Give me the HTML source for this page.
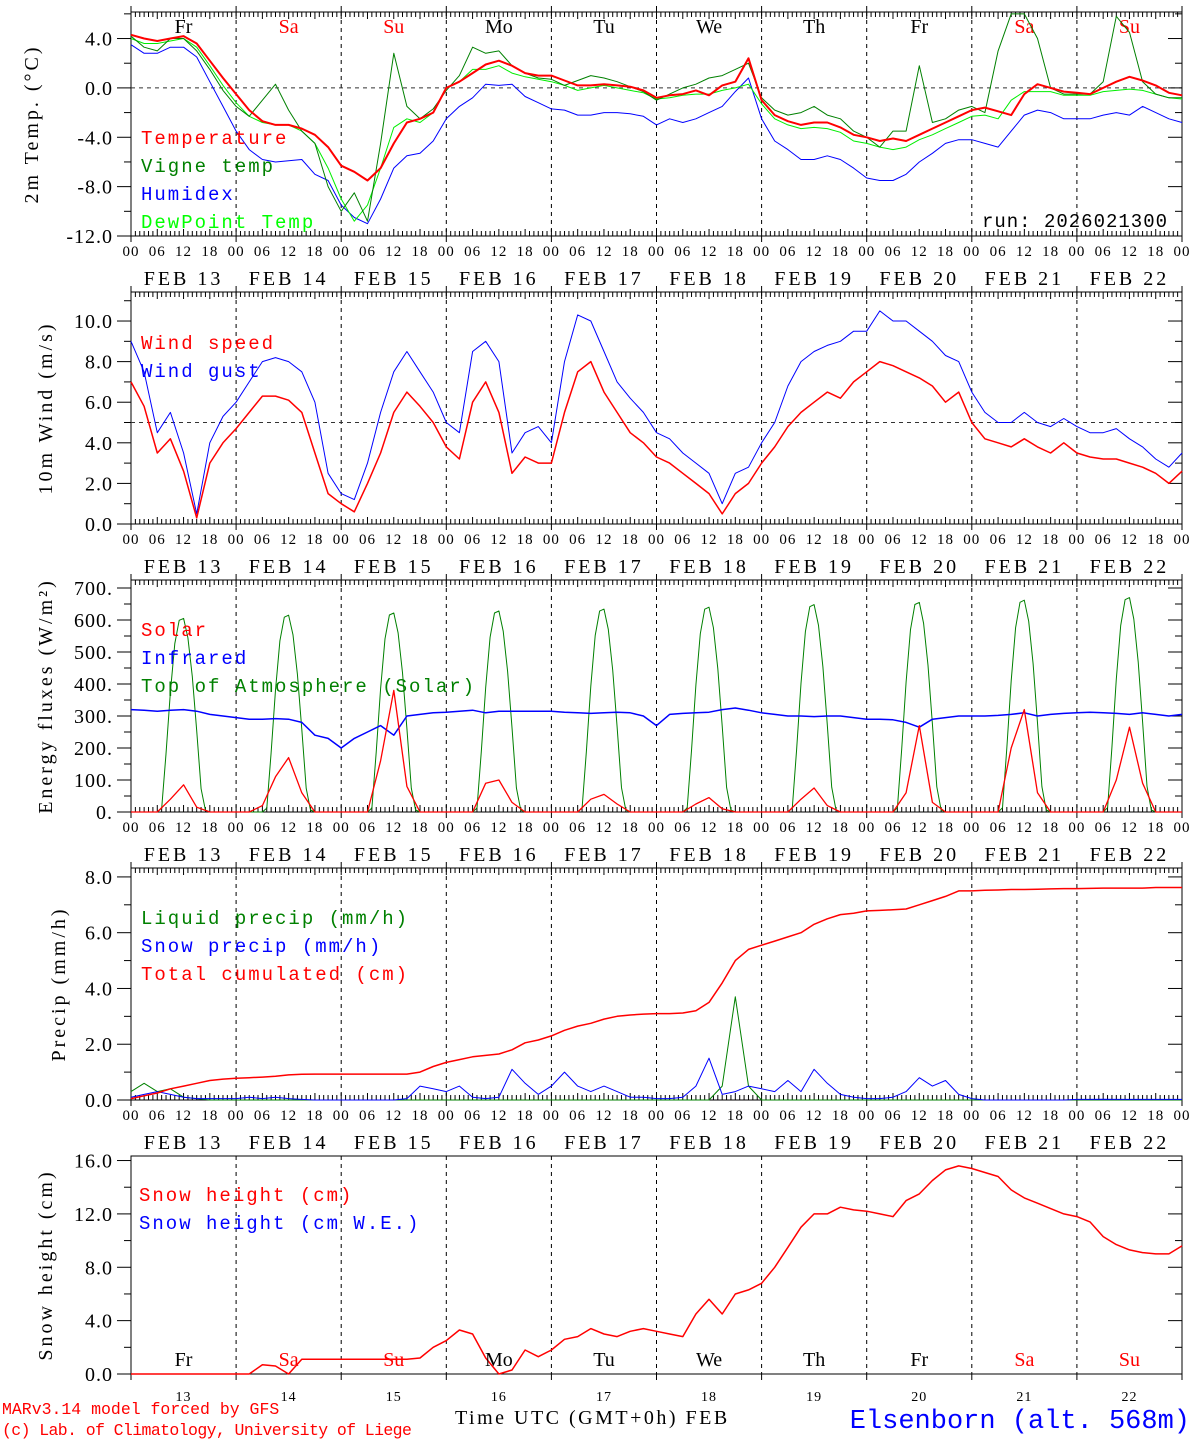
<!DOCTYPE html>
<html><head><meta charset="utf-8"><style>
html,body{margin:0;padding:0;background:#fff;}
svg text{font-family:"Liberation Serif",serif;}
.mono{font-family:"Liberation Mono",monospace !important;}
</style></head><body>
<svg id="chart" width="1194" height="1440" viewBox="0 0 1194 1440" xmlns="http://www.w3.org/2000/svg"></svg>
<script>
// ---- data (3-hourly, Feb 13 00h .. Feb 23 00h) ----
const dayNums=['13','14','15','16','17','18','19','20','21','22'];
const dayNames=['Fr','Sa','Su','Mo','Tu','We','Th','Fr','Sa','Su'];
const weekend=[false,true,true,false,false,false,false,false,true,true];
const temp=[4.3,4.0,3.8,4.0,4.2,3.6,2.2,0.8, -0.5,-1.8,-2.7,-3.0,-3.0,-3.3,-3.8,-4.8, -6.3,-6.8,-7.5,-6.5,-4.5,-2.8,-2.5,-2.0, 0.0,0.5,1.2,1.9,2.2,1.8,1.2,1.0, 1.0,0.6,0.2,0.2,0.3,0.2,0.1,-0.2, -0.8,-0.6,-0.5,-0.2,-0.6,0.2,0.5,2.4, -1.0,-2.2,-2.7,-3.0,-2.8,-2.8,-3.2,-3.8, -4.0,-4.3,-4.1,-4.3,-3.8,-3.3,-2.8,-2.3, -1.8,-1.6,-1.9,-2.2,-0.5,0.3,0.0,-0.3, -0.4,-0.5,0.0,0.5,0.9,0.6,0.2,-0.4,-0.6];
const vigne=[4.2,3.3,3.0,4.0,4.0,3.0,1.5,-0.2, -1.5,-2.3,-1.0,0.3,-1.8,-3.5,-4.5,-8.0, -10.0,-8.5,-10.8,-4.5,2.8,-1.5,-2.5,-1.7, -0.2,1.0,3.3,2.8,3.0,1.8,1.2,0.8, 0.7,0.2,0.6,1.0,0.8,0.5,0.1,-0.3, -1.0,-0.5,0.0,0.3,0.8,1.0,1.5,2.0, -0.8,-1.8,-2.2,-2.0,-1.5,-2.2,-2.5,-3.5, -4.0,-4.8,-3.5,-3.5,1.8,-2.8,-2.5,-1.8, -1.5,-2.0,3.0,6.0,6.0,4.0,0.0,-0.5, -0.5,-0.5,0.5,5.8,4.5,0.5,-0.5,-0.8,-0.8];
const humidex=[3.5,2.8,2.8,3.3,3.3,2.5,0.5,-1.5, -3.5,-5.0,-5.8,-6.0,-5.9,-5.8,-7.0,-7.5, -9.5,-10.5,-11.0,-9.0,-6.5,-5.5,-5.3,-4.3, -2.5,-1.5,-0.8,0.3,0.2,0.3,-0.7,-1.2, -1.7,-1.8,-2.2,-2.2,-2.0,-2.0,-2.1,-2.3, -3.0,-2.5,-2.8,-2.5,-2.0,-1.5,-0.3,0.8, -2.5,-4.3,-5.0,-5.8,-5.8,-5.5,-5.8,-6.5, -7.3,-7.5,-7.5,-7.0,-6.0,-5.3,-4.5,-4.2, -4.2,-4.5,-4.8,-3.5,-2.2,-1.8,-2.0,-2.5, -2.5,-2.5,-2.2,-2.0,-2.2,-1.5,-2.0,-2.5,-2.8];
const dew=[4.0,3.6,3.6,3.8,4.0,3.3,1.8,0.2, -1.2,-2.3,-2.8,-3.0,-3.0,-3.5,-4.5,-6.5, -9.0,-10.8,-9.5,-6.5,-3.2,-2.5,-2.8,-2.0, 0.0,0.5,1.5,1.5,1.8,1.2,0.9,0.7, 0.5,0.2,-0.2,0.0,0.2,0.0,-0.2,-0.4, -0.9,-0.8,-0.6,-0.5,-0.5,-0.2,0.0,0.3, -1.3,-2.5,-3.0,-3.3,-3.2,-3.3,-3.6,-4.3, -4.5,-4.8,-5.0,-4.8,-4.2,-3.8,-3.3,-2.8, -2.3,-2.2,-2.5,-1.0,-0.3,-0.3,-0.3,-0.6, -0.6,-0.6,-0.3,-0.2,-0.1,-0.2,-0.5,-0.8,-0.9];
const wspd=[7.0,5.8,3.5,4.2,2.6,0.3,3.0,4.0, 4.7,5.5,6.3,6.3,6.1,5.5,3.5,1.5, 1.0,0.6,2.0,3.5,5.5,6.5,5.8,5.0, 3.8,3.2,6.0,7.0,5.5,2.5,3.3,3.0, 3.0,5.5,7.5,8.0,6.5,5.5,4.5,4.0, 3.3,3.0,2.5,2.0,1.5,0.5,1.5,2.0, 3.0,3.8,4.8,5.5,6.0,6.5,6.2,7.0, 7.5,8.0,7.8,7.5,7.2,6.8,6.0,6.5, 5.0,4.2,4.0,3.8,4.2,3.8,3.5,4.0, 3.5,3.3,3.2,3.2,3.0,2.8,2.5,2.0,2.6];
const wgust=[9.0,7.5,4.5,5.5,3.5,0.5,4.0,5.3, 6.0,7.0,8.0,8.2,8.0,7.5,6.0,2.5, 1.5,1.2,3.0,5.5,7.5,8.5,7.5,6.5, 5.0,4.5,8.5,9.0,8.0,3.5,4.5,4.8, 4.0,8.0,10.3,10.0,8.5,7.0,6.2,5.5, 4.5,4.2,3.5,3.0,2.5,1.0,2.5,2.8, 4.0,5.0,6.8,8.0,8.5,8.8,9.0,9.5, 9.5,10.5,10.0,10.0,9.5,9.0,8.3,8.0, 6.5,5.5,5.0,5.0,5.5,5.0,4.8,5.2, 4.8,4.5,4.5,4.7,4.2,3.8,3.2,2.8,3.5];
const solar=[0,0,0,40,85,15,0,0, 0,0,20,110,170,60,0,0, 0,0,0,160,380,80,0,0, 0,0,0,90,100,30,0,0, 0,0,0,40,55,25,0,0, 0,0,0,25,45,10,0,0, 0,0,0,40,75,20,0,0, 0,0,0,60,270,30,0,0, 0,0,0,200,320,60,0,0, 0,0,0,100,265,90,0,0,0];
const infra=[320,318,315,318,320,315,305,300, 295,290,290,292,290,280,240,230, 200,230,250,270,240,300,305,310, 312,315,318,310,315,315,315,315, 315,312,310,308,310,312,310,300, 270,305,308,310,312,320,325,318, 310,305,300,300,298,300,300,295, 290,290,288,280,265,290,295,300, 300,300,302,305,310,300,305,308, 310,312,310,308,305,310,305,300,305];
const toaPeak=[605,615,622,628,634,640,648,655,662,670];
const toaShape=[0,0,0,0,0,0,0,0.02,0.3,0.62,0.87,0.99,1.0,0.9,0.7,0.42,0.12,0.01,0,0,0,0,0,0];
const liq=[0.3,0.6,0.3,0.4,0.1,0.05,0,0, 0,0,0,0,0,0,0,0, 0,0,0,0,0,0,0,0, 0,0,0,0,0,0,0,0, 0,0,0,0,0,0,0,0, 0,0,0,0,0,0.5,3.7,0.5, 0,0,0,0,0,0,0,0, 0,0,0,0,0,0,0,0, 0,0,0,0,0,0,0,0, 0,0,0,0,0,0,0,0,0];
const snowp=[0.1,0.2,0.3,0.2,0.1,0.05,0.05,0.05, 0.05,0.1,0.05,0.1,0.05,0.02,0,0, 0,0,0,0,0,0.05,0.5,0.4, 0.3,0.5,0.1,0.05,0.1,1.1,0.6,0.2, 0.5,1.0,0.5,0.3,0.5,0.3,0.1,0.1, 0.05,0.05,0.1,0.5,1.5,0.2,0.3,0.5, 0.4,0.3,0.7,0.3,1.1,0.6,0.2,0.1, 0.05,0.05,0.1,0.3,0.8,0.5,0.7,0.2, 0.05,0,0,0,0,0,0,0, 0.02,0.02,0.03,0.02,0.02,0.02,0.02,0.02,0.02];
const cum=[0.05,0.15,0.25,0.4,0.5,0.6,0.7,0.75, 0.78,0.8,0.82,0.85,0.9,0.92,0.93,0.93, 0.93,0.93,0.93,0.93,0.93,0.93,1.0,1.2, 1.35,1.45,1.55,1.6,1.65,1.8,2.05,2.15, 2.3,2.5,2.65,2.75,2.9,3.0,3.05,3.08, 3.1,3.1,3.12,3.2,3.5,4.2,5.0,5.4, 5.55,5.7,5.85,6.0,6.3,6.5,6.65,6.7, 6.78,6.8,6.82,6.85,7.0,7.15,7.3,7.5, 7.5,7.52,7.53,7.55,7.55,7.56,7.57,7.58, 7.58,7.59,7.6,7.6,7.6,7.6,7.62,7.62,7.62];
const snowH=[0,0,0,0,0,0,0,0, 0,0,0.7,0.6,0,1.1,1.1,1.1, 1.1,1.1,1.1,1.1,1.1,1.1,1.2,2.0, 2.5,3.3,3.0,1.2,0,0.3,1.8,1.3, 1.8,2.6,2.8,3.4,3.0,2.8,3.2,3.4, 3.2,3.0,2.8,4.5,5.6,4.5,6.0,6.3, 6.8,8.0,9.5,11.0,12.0,12.0,12.5,12.3, 12.2,12.0,11.8,13.0,13.5,14.5,15.3,15.6, 15.4,15.1,14.8,13.8,13.2,12.8,12.4,12.0, 11.8,11.4,10.3,9.7,9.3,9.1,9.0,9.0,9.6];

// ---- layout ----
const NS='http://www.w3.org/2000/svg';
const svg=document.getElementById('chart');
const X0=131,X1=1182,HOURS=240;
function xh(h){return X0+h*(X1-X0)/HOURS;}
function mk(tag,attrs,parent){const e=document.createElementNS(NS,tag);for(const k in attrs)e.setAttribute(k,attrs[k]);(parent||svg).appendChild(e);return e;}
function txt(s,x,y,size,fill,anchor,cls,parent,ls){const t=mk('text',{x:x,y:y,'font-size':size,fill:fill,'text-anchor':anchor||'start'},parent);if(cls)t.setAttribute('class',cls);if(ls)t.setAttribute('letter-spacing',ls);t.textContent=s;return t;}

const panels=[
 {name:'temperature-panel',top:12,bottom:236,min:-12,max:6.15,ticks:[-12,-8,-4,0,4],fmt:v=>v.toFixed(1),minor:2,title:'2m Temp. (\u00B0C)',ref:0,tx:38},
 {name:'wind-panel',top:292,bottom:524,min:0,max:11.43,ticks:[0,2,4,6,8,10],fmt:v=>v.toFixed(1),minor:1,title:'10m Wind (m/s)',ref:5,tx:52},
 {name:'energy-panel',top:580,bottom:812,min:0,max:725,ticks:[0,100,200,300,400,500,600,700],fmt:v=>v+'.',minor:50,title:'Energy fluxes (W/m\u00B2)',tx:52},
 {name:'precip-panel',top:868,bottom:1100,min:0,max:8.32,ticks:[0,2,4,6,8],fmt:v=>v.toFixed(1),minor:1,title:'Precip (mm/h)',tx:65},
 {name:'snow-panel',top:1156,bottom:1374,min:0,max:16.34,ticks:[0,4,8,12,16],fmt:v=>v.toFixed(1),minor:2,title:'Snow height (cm)',last:true,tx:52}
];
function yv(p,v){return p.bottom-(v-p.min)*(p.bottom-p.top)/(p.max-p.min);}

function drawPanel(p){
 const g=mk('g',{});
 
 
 mk('rect',{x:X0,y:p.top,width:X1-X0,height:p.bottom-p.top,fill:'none',stroke:'#000','stroke-width':1},g);
 for(let d=1;d<10;d++){const x=xh(d*24);mk('line',{x1:x,y1:p.top,x2:x,y2:p.bottom,stroke:'#000','stroke-dasharray':'4,4','stroke-width':1},g);}
 if(p.ref!==undefined){mk('line',{x1:X0,y1:yv(p,p.ref),x2:X1,y2:yv(p,p.ref),stroke:'#333','stroke-dasharray':'4,4'},g);}
 if(!p.last){
  for(let h=0;h<=HOURS;h++){const x=xh(h);const L=(h%6==0?7:5);
   if(h%24==0){mk('line',{x1:x,y1:p.top-6,x2:x,y2:p.top+7,stroke:'#000'},g);mk('line',{x1:x,y1:p.bottom-7,x2:x,y2:p.bottom+6,stroke:'#000'},g);}
   else{mk('line',{x1:x,y1:p.top,x2:x,y2:p.top+L,stroke:'#000'},g);mk('line',{x1:x,y1:p.bottom,x2:x,y2:p.bottom-L,stroke:'#000'},g);}
  }
  for(let h=0;h<=HOURS;h+=6){const hh=String(h%24).padStart(2,'0');txt(hh,xh(h),p.bottom+20,15,'#000','middle',null,g,'1');}
  for(let d=0;d<10;d++){txt('FEB '+dayNums[d],xh(d*24+12),p.bottom+49,20,'#000','middle',null,g,'3');}
 } else {
  for(let d=0;d<=10;d++){const x=xh(d*24);mk('line',{x1:x,y1:p.bottom,x2:x,y2:p.bottom+6,stroke:'#000'},g);}
  for(let d=0;d<10;d++){txt(dayNums[d],xh(d*24+12),p.bottom+27,14,'#000','middle',null,g,'1');}
 }
 for(let v=p.min;v<=p.max+1e-6;v+=p.minor){const y=yv(p,v);const maj=p.ticks.some(t=>Math.abs(t-v)<1e-6);
  mk('line',{x1:X0-(maj?14:7),y1:y,x2:X0,y2:y,stroke:'#000'},g);
  mk('line',{x1:X1,y1:y,x2:X1-(maj?14:7),y2:y,stroke:'#000'},g);}
 p.ticks.forEach(v=>{txt(p.fmt(v),X0-18,yv(p,v)+7,20,'#000','end',null,g,'1');});
 const t=txt(p.title,0,0,20,'#000','middle',null,g,'3');
 t.setAttribute('transform','translate('+p.tx+','+((p.top+p.bottom)/2)+') rotate(-90)');
 return g;
}
function series(p,vals,color,name,width,step){
 const pts=vals.map((v,i)=>xh(i*(step||3)).toFixed(1)+','+yv(p,v).toFixed(1)).join(' ');
 const e=mk('polyline',{points:pts,fill:'none',stroke:color,'stroke-width':width||1.3,'stroke-linejoin':'round'});
 
 
}
function legend(p,items,x,y0){items.forEach((it,i)=>{const t=txt(it[0],x,y0+i*28,19,it[1],'start','mono',null,'2');});}

const P=panels;
P.forEach(drawPanel);
dayNames.forEach((n,d)=>{const t=txt(n,xh(d*24+12),33,20,weekend[d]?'#f00':'#000','middle');});
series(P[0],humidex,'#0000ff','humidex-line',1);
series(P[0],dew,'#00ee00','dewpoint-line',1);
series(P[0],vigne,'#008000','vigne-temp-line',1);
series(P[0],temp,'#ff0000','temperature-line',2);
legend(P[0],[['Temperature','#f00'],['Vigne temp','#008000'],['Humidex','#00f'],['DewPoint Temp','#0f0']],141,144);
txt('run: 2026021300',1168,227,19,'#000','end','mono',null,'1');
series(P[1],wgust,'#0000ff','wind-gust-line',1);
series(P[1],wspd,'#ff0000','wind-speed-line',1.5);
legend(P[1],[['Wind speed','#f00'],['Wind gust','#00f']],141,349);
const toa=[];for(let d=0;d<10;d++){for(let h=0;h<24;h++)toa.push(toaPeak[d]*toaShape[h]);}toa.push(0);
series(P[2],toa,'#008000','toa-solar-line',1,1);
series(P[2],infra,'#0000ff','infrared-line',1.5);
series(P[2],solar,'#ff0000','solar-line',1.3);
legend(P[2],[['Solar','#f00'],['Infrared','#00f'],['Top of Atmosphere (Solar)','#008000']],141,636);
series(P[3],liq,'#008000','liquid-precip-line',1);
series(P[3],snowp,'#0000ff','snow-precip-line',1);
series(P[3],cum,'#ff0000','total-cumulated-line',1.5);
legend(P[3],[['Liquid precip (mm/h)','#008000'],['Snow precip (mm/h)','#00f'],['Total cumulated (cm)','#f00']],141,924);
series(P[4],snowH,'#ff0000','snow-height-line',1.5);
legend(P[4],[['Snow height (cm)','#f00'],['Snow height (cm W.E.)','#00f']],139,1201);
dayNames.forEach((n,d)=>{const t=txt(n,xh(d*24+12),1366,20,weekend[d]?'#f00':'#000','middle');});
txt('MARv3.14 model forced by GFS',2,1414,16.5,'#f00','start','mono');
txt('(c) Lab. of Climatology, University of Liege',2,1435,16.5,'#f00','start','mono',null,'-0.6');
const xt=txt('Time UTC (GMT+0h) FEB',455,1424,20,'#000','start',null,null,'2.5');
const st=txt('Elsenborn (alt. 568m)',1190,1428,27,'#0000ff','end','mono');
</script>
</body></html>
